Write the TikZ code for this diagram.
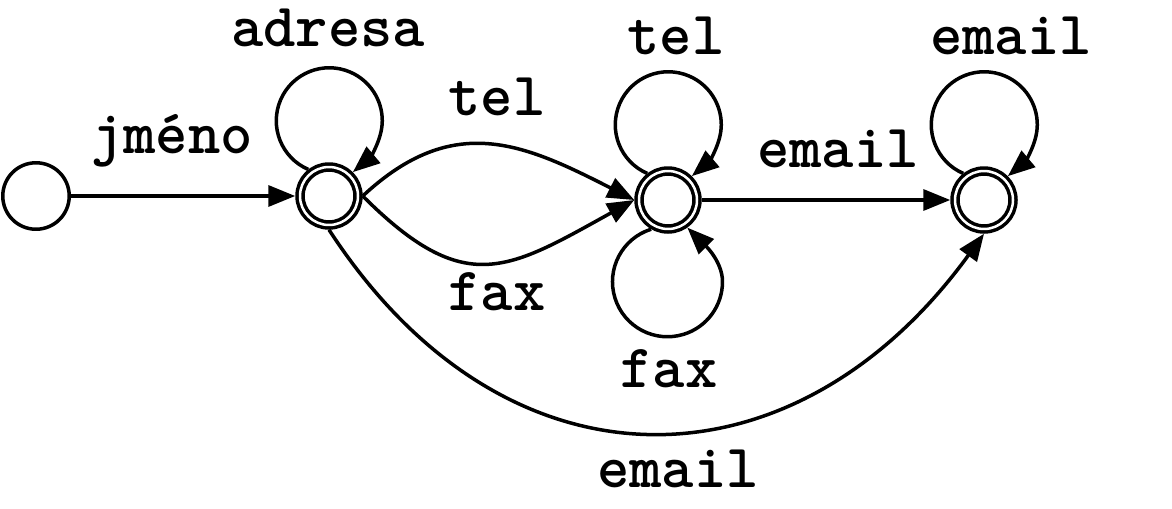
\documentclass[tikz,border=0pt]{standalone}
\usepackage{fontspec}
\newfontfamily\lblfont{Latin Modern Mono Light}
\usetikzlibrary{arrows.meta}
\begin{document}
\begin{tikzpicture}[x=0.02cm,y=0.02cm,
  line width=0.07cm,
  plain/.style={circle,draw,minimum size=1.33cm,inner sep=0pt},
  accept/.style={circle,draw,double,double distance=0.05cm,minimum size=1.16cm,inner sep=0pt,outer sep=0.095cm},
  edge/.style={-{Triangle[length=0.54cm,width=0.42cm]}},
  lbl/.style={anchor=base,inner sep=0pt,font=\lblfont\bfseries\fontsize{35}{40}\selectfont}]
\useasboundingbox (0,0) rectangle (1172,508);
\node[plain] (q0) at (36,312) {};
\node[accept] (q1) at (329,312) {};
\node[accept] (q2) at (668,308) {};
\node[accept] (q3) at (984,308) {};

\draw[edge] (q0) -- (q1);
\draw[edge] (q1.east) .. controls +(43:124) and +(153:124) .. (q2.west);
\draw[edge] (q1.east) .. controls +(-45:145) and +(-151:145) .. (q2.west);
\draw[edge] (q2) -- (q3);
\draw[edge] (q1.270) .. controls +(-57:324) and +(-126:324) .. (q3.270);
% self-loops
\draw[edge] (q1.128.5) arc[start angle=246.6, end angle=0, radius=53]
  .. controls +(0,-20) and +(40:20) .. (q1.45);
\draw[edge] (q2.128.5) arc[start angle=246.6, end angle=0, radius=53]
  .. controls +(0,-20) and +(40:20) .. (q2.45);
\draw[edge] (q2.240.9) arc[start angle=107.3, end angle=360, radius=55]
  .. controls +(0,22) and +(-45:20) .. (q2.-55);
\draw[edge] (q3.128.5) arc[start angle=246.6, end angle=0, radius=53]
  .. controls +(0,-20) and +(40:20) .. (q3.45);

\node[lbl] (l1) at (172,355) {jméno};
\node[lbl] (l2) at (497,393) {tel};
\node[lbl] (l3) at (497,198) {fax};
\node[lbl] (l4) at (328,461) {adresa};
\node[lbl] (l5) at (676,453) {tel};
\node[lbl] (l6) at (669,121) {fax};
\node[lbl] (l7) at (838,341) {email};
\node[lbl] (l8) at (1011,453) {email};
\node[lbl] (l9) at (678,21) {email};
\end{tikzpicture}
\end{document}
